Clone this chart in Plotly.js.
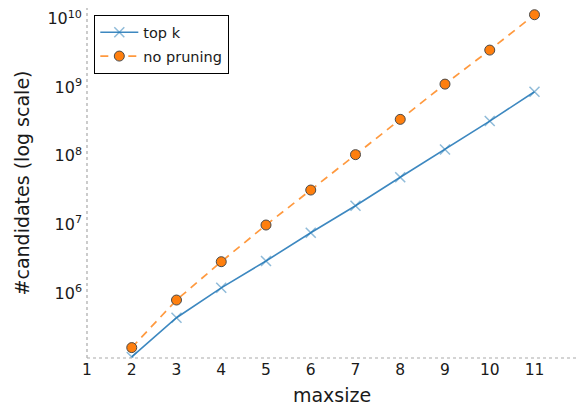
<!DOCTYPE html>
<html>
<head>
<meta charset="utf-8">
<script src="https://cdn.plot.ly/plotly-3.0.1.min.js"></script>
<style>html,body{margin:0;padding:0;background:#fff;}#chart{width:577px;height:406px;}</style>
</head>
<body>
<div id="chart"></div>
<script>
const maxsize = [2, 3, 4, 5, 6, 7, 8, 9, 10, 11];
const topK = [1.17e5, 4.36e5, 1.19e6, 2.93e6, 7.57e6, 1.87e7, 4.87e7, 1.24e8, 3.21e8, 8.6e8];
const noPruning = [1.6e5, 7.9e5, 2.86e6, 9.8e6, 3.17e7, 1.04e8, 3.4e8, 1.11e9, 3.48e9, 1.14e10];
const xTicks = [1, 2, 3, 4, 5, 6, 7, 8, 9, 10, 11];
const yTickVals = [1e6, 1e7, 1e8, 1e9, 1e10];
const yTickText = ["10<sup>6</sup>", "10<sup>7</sup>", "10<sup>8</sup>", "10<sup>9</sup>", "10<sup>10</sup>"];

const font = "DejaVu Sans, sans-serif";
const traces = [
  {
    x: maxsize, y: topK, name: "top k", legendgroup: "a", type: "scatter", mode: "lines+markers",
    line: {color: "#3d88c0", width: 1.6},
    marker: {symbol: "x-thin", size: 10, color: "rgba(31,119,180,0.5)",
             line: {color: "rgba(31,119,180,0.5)", width: 1.5}},
    cliponaxis: true
  },
  {
    x: maxsize, y: noPruning, name: "no pruning", legendgroup: "b", type: "scatter", mode: "lines+markers",
    line: {color: "rgba(255,127,14,0.8)", width: 1.7, dash: "8px,6px"},
    marker: {symbol: "circle", size: 10, color: "#ff7f0e",
             line: {color: "#4a4a4a", width: 1}},
    cliponaxis: false
  }
];

const layout = {
  width: 577, height: 406,
  margin: {l: 87, r: 0, t: 8, b: 48, pad: 0},
  paper_bgcolor: "#fff", plot_bgcolor: "#fff",
  font: {family: font, color: "#1a1a1a", size: 14},
  showlegend: true,
  legend: {
    x: 0.0143, y: 0.98, xanchor: "left", yanchor: "top",
    bgcolor: "#fff", bordercolor: "#000", borderwidth: 1.3,
    font: {family: font, size: 14.5, color: "#1a1a1a"},
    tracegroupgap: 2, itemwidth: 38
  },
  xaxis: {
    range: [1, 11.95], tickvals: xTicks, ticktext: xTicks.map(String),
    showgrid: false, zeroline: false, showline: false, ticks: "",
    tickfont: {family: font, size: 15.5, color: "#1a1a1a"},
    title: {text: "maxsize", font: {family: font, size: 19, color: "#1a1a1a"}, standoff: 14}
  },
  yaxis: {
    type: "log", range: [5.0525, 10.155], tickvals: yTickVals, ticktext: yTickText,
    showgrid: false, zeroline: false, showline: false, ticks: "",
    ticklabelstandoff: 4,
    tickfont: {family: font, size: 16, color: "#1a1a1a"},
    title: {text: "#candidates (log scale)", font: {family: font, size: 19, color: "#1a1a1a"}, standoff: 12}
  },
  shapes: [
    {type: "line", xref: "paper", yref: "paper", x0: 0, x1: 0, y0: 0, y1: 1,
     line: {color: "#aaaaaa", width: 1.2, dash: "dot"}},
    {type: "line", xref: "paper", yref: "paper", x0: 0, x1: 1, y0: 0, y1: 0,
     line: {color: "#aaaaaa", width: 1.2, dash: "dot"}}
  ]
};

Plotly.newPlot("chart", traces, layout, {displayModeBar: false, staticPlot: true});
</script>
</body>
</html>
